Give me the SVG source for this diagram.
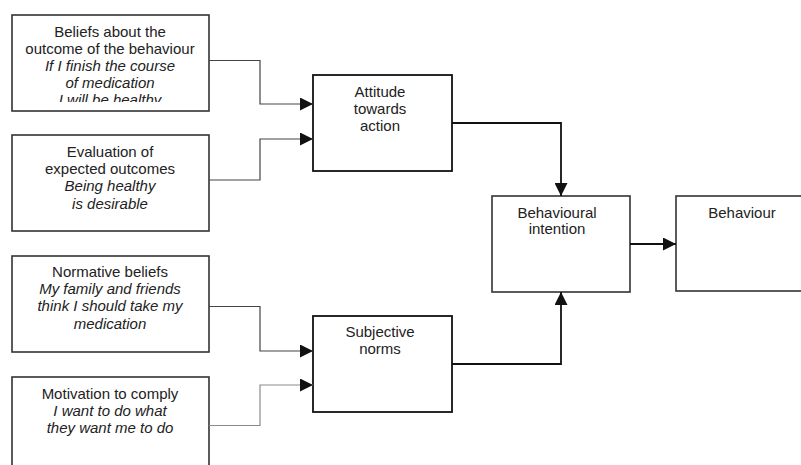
<svg xmlns="http://www.w3.org/2000/svg" width="801" height="465" viewBox="0 0 801 465">
  <style>
    .box { fill: #ffffff; stroke: #333333; stroke-width: 1.6; }
    .box-dark { fill: #ffffff; stroke: #111111; stroke-width: 1.8; }
    text { font-family: "Liberation Sans", Arial, sans-serif; font-size: 15px; fill: #222222; text-anchor: middle; }
    .it { font-style: italic; }
    .feed { fill: none; stroke: #444444; stroke-width: 1.2; }
    .feed-light { fill: none; stroke: #8a8a8a; stroke-width: 1.2; }
    .main { fill: none; stroke: #111111; stroke-width: 1.8; }
  </style>
  <defs>
    <marker id="arrow" viewBox="0 0 10 10" refX="10" refY="5" markerWidth="13" markerHeight="13" markerUnits="userSpaceOnUse" orient="auto">
      <path d="M0,0 L10,5 L0,10 Z" fill="#111111"/>
    </marker>
    <clipPath id="clip-beliefs">
      <rect x="12" y="15" width="197" height="87"/>
    </clipPath>
  </defs>

  <g id="beliefs">
    <rect class="box" x="12" y="15" width="197" height="96"/>
    <g clip-path="url(#clip-beliefs)">
      <text x="110" y="37">Beliefs about the</text>
      <text x="110" y="54">outcome of the behaviour</text>
      <text class="it" x="110" y="71">If I finish the course</text>
      <text class="it" x="110" y="88">of medication</text>
      <text class="it" x="110" y="105">I will be healthy</text>
    </g>
  </g>

  <g id="evaluation">
    <rect class="box" x="12" y="135" width="197" height="96"/>
    <text x="110" y="157">Evaluation of</text>
    <text x="110" y="174">expected outcomes</text>
    <text class="it" x="110" y="191">Being healthy</text>
    <text class="it" x="110" y="209">is desirable</text>
  </g>

  <g id="normative">
    <rect class="box" x="12" y="256" width="197" height="96"/>
    <text x="110" y="277">Normative beliefs</text>
    <text class="it" x="110" y="294">My family and friends</text>
    <text class="it" x="110" y="311">think I should take my</text>
    <text class="it" x="110" y="329">medication</text>
  </g>

  <g id="motivation">
    <rect class="box" x="12" y="377" width="197" height="100"/>
    <text x="110" y="399">Motivation to comply</text>
    <text class="it" x="110" y="416">I want to do what</text>
    <text class="it" x="110" y="433">they want me to do</text>
  </g>

  <g id="attitude">
    <rect class="box-dark" x="313" y="75" width="139" height="96"/>
    <text x="380" y="97">Attitude</text>
    <text x="380" y="114">towards</text>
    <text x="380" y="131">action</text>
  </g>

  <g id="subjective">
    <rect class="box-dark" x="313" y="316" width="139" height="96"/>
    <text x="380" y="337">Subjective</text>
    <text x="380" y="354">norms</text>
  </g>

  <g id="intention">
    <rect class="box" x="492" y="196" width="138" height="96"/>
    <text x="557" y="218">Behavioural</text>
    <text x="557" y="234">intention</text>
  </g>

  <g id="behaviour">
    <rect class="box" x="676" y="196" width="140" height="95"/>
    <text x="742" y="218">Behaviour</text>
  </g>

  <g id="connectors">
    <path class="feed" d="M209,60.5 H260 V104 H313" marker-end="url(#arrow)"/>
    <path class="feed" d="M209,180 H260 V139 H313" marker-end="url(#arrow)"/>
    <path class="feed" d="M209,306.5 H260 V351 H313" marker-end="url(#arrow)"/>
    <path class="feed-light" d="M209,425.5 H260 V385 H313" marker-end="url(#arrow)"/>
    <path class="main" d="M452,123 H561 V196" marker-end="url(#arrow)"/>
    <path class="main" d="M452,364 H561 V292" marker-end="url(#arrow)"/>
    <path class="main" d="M630,244 H676" marker-end="url(#arrow)"/>
  </g>
</svg>
